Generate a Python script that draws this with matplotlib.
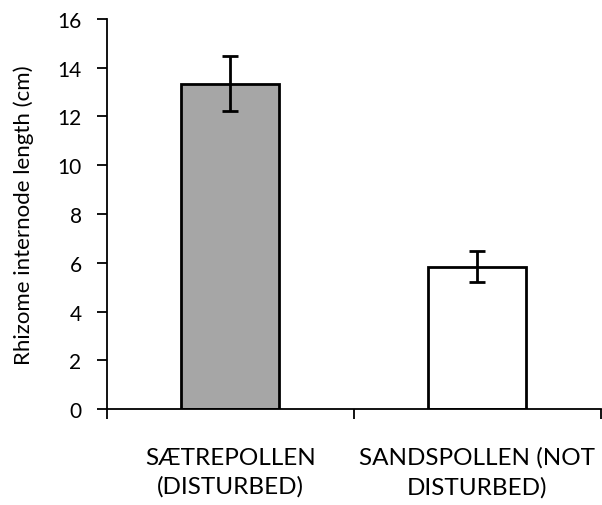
import numpy as np
import matplotlib
matplotlib.use("Agg")
import matplotlib.pyplot as plt

# values
sites = ["SÆTREPOLLEN\n(DISTURBED)", "SANDSPOLLEN (NOT\nDISTURBED)"]
means = [13.33, 5.84]
err_low = [1.12, 0.64]
err_high = [1.14, 0.63]
colors = ["#a6a6a6", "#ffffff"]

plt.rcParams['font.family'] = ['Lato', 'DejaVu Sans']

fig = plt.figure(figsize=(6.02, 5.06), dpi=100)
ax = fig.add_axes([0.177, 0.1897, 0.821, 0.7708])

x = np.arange(len(sites))
ax.bar(x, means, width=0.395, color=colors, edgecolor="black", linewidth=2, zorder=2)
ax.errorbar(x, means, yerr=[err_low, err_high], fmt="none", ecolor="black",
            elinewidth=2, capsize=6, capthick=2, zorder=3)

ax.set_xlim(-0.5, 1.5)
ax.set_ylim(0, 16)
ax.set_yticks(range(0, 17, 2))
ax.tick_params(axis="y", labelsize=15, length=7, width=1.3, direction="out", pad=11)

# category boundary ticks on x-axis, labels centred under bars
ax.set_xticks([-0.5, 0.5, 1.5])
ax.set_xticklabels([])
ax.set_xticks(x, minor=True)
ax.set_xticklabels(sites, minor=True, fontsize=17.5, linespacing=1.45)
ax.tick_params(axis="x", which="major", length=7, width=1.3, direction="out")
ax.tick_params(axis="x", which="minor", length=0, pad=27)

for s in ["top", "right"]:
    ax.spines[s].set_visible(False)
ax.spines["left"].set_linewidth(1.3)
ax.spines["bottom"].set_linewidth(1.3)

ax.set_ylabel("Rhizome internode length (cm)", fontsize=16, labelpad=17)

fig.savefig("out.png", dpi=100)
